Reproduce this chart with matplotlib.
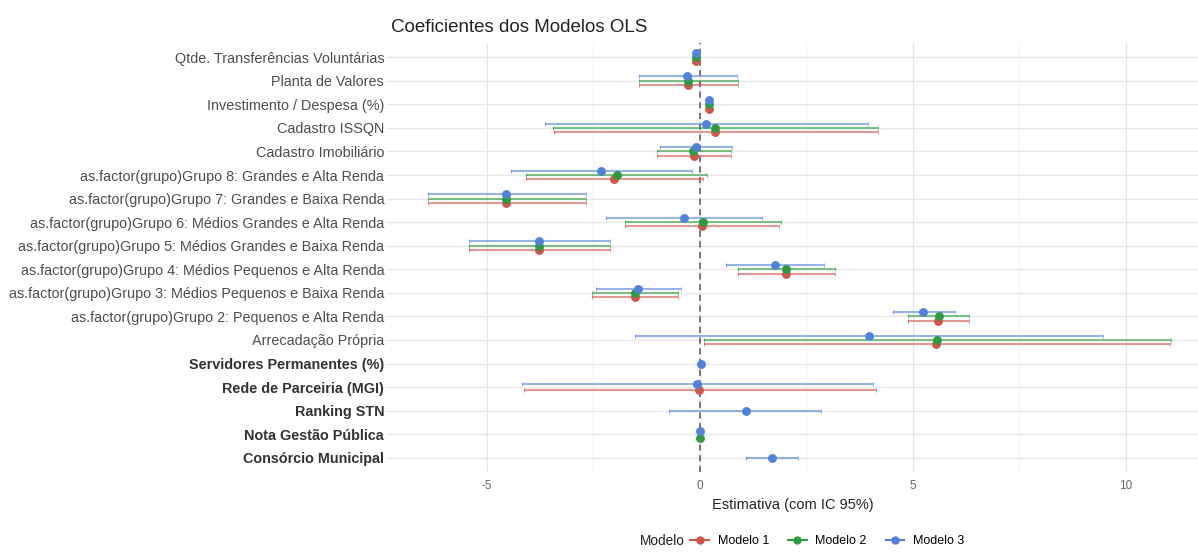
import numpy as np
import matplotlib
matplotlib.use("Agg")
import matplotlib.pyplot as plt
from matplotlib.lines import Line2D

plt.rcParams['font.family'] = ['Liberation Sans', 'DejaVu Sans']

terms = [
    "Qtde. Transferências Voluntárias",
    "Planta de Valores",
    "Investimento / Despesa (%)",
    "Cadastro ISSQN",
    "Cadastro Imobiliário",
    "as.factor(grupo)Grupo 8: Grandes e Alta Renda",
    "as.factor(grupo)Grupo 7: Grandes e Baixa Renda",
    "as.factor(grupo)Grupo 6: Médios Grandes e Alta Renda",
    "as.factor(grupo)Grupo 5: Médios Grandes e Baixa Renda",
    "as.factor(grupo)Grupo 4: Médios Pequenos e Alta Renda",
    "as.factor(grupo)Grupo 3: Médios Pequenos e Baixa Renda",
    "as.factor(grupo)Grupo 2: Pequenos e Alta Renda",
    "Arrecadação Própria",
    "Servidores Permanentes (%)",
    "Rede de Parceiria (MGI)",
    "Ranking STN",
    "Nota Gestão Pública",
    "Consórcio Municipal",
]
bold_terms = ["Servidores Permanentes (%)", "Rede de Parceiria (MGI)", "Ranking STN",
              "Nota Gestão Pública", "Consórcio Municipal"]

nan = np.nan
m1_est = [-0.09, -0.27, 0.22, 0.36, -0.14, -2.00, -4.54, 0.06, -3.76, 2.03, -1.51, 5.60, 5.54, nan, -0.01, nan, nan, nan]
m1_lo  = [-0.12, -1.43, 0.19, -3.43, -1.00, -4.08, -6.38, -1.75, -5.41, 0.90, -2.52, 4.89, 0.11, nan, -4.12, nan, nan, nan]
m1_hi  = [-0.06, 0.90, 0.25, 4.19, 0.74, 0.09, -2.67, 1.87, -2.11, 3.18, -0.51, 6.33, 11.05, nan, 4.14, nan, nan, nan]

m2_est = [-0.08, -0.27, 0.22, 0.35, -0.15, -1.95, -4.54, 0.07, -3.76, 2.03, -1.51, 5.61, 5.58, nan, nan, nan, 0.00, nan]
m2_lo  = [-0.11, -1.43, 0.19, -3.45, -1.00, -4.08, -6.38, -1.75, -5.41, 0.90, -2.52, 4.89, 0.11, nan, nan, nan, -0.02, nan]
m2_hi  = [-0.05, 0.90, 0.25, 4.19, 0.74, 0.17, -2.67, 1.91, -2.11, 3.18, -0.51, 6.33, 11.06, nan, nan, nan, 0.02, nan]

m3_est = [-0.08, -0.29, 0.21, 0.15, -0.08, -2.31, -4.54, -0.37, -3.76, 1.77, -1.45, 5.25, 3.98, 0.04, -0.07, 1.08, 0.00, 1.69]
m3_lo  = [-0.11, -1.43, 0.18, -3.64, -0.94, -4.43, -6.38, -2.19, -5.41, 0.62, -2.43, 4.54, -1.51, 0.01, -4.17, -0.71, -0.02, 1.08]
m3_hi  = [-0.05, 0.88, 0.24, 3.95, 0.77, -0.17, -2.67, 1.46, -2.11, 2.91, -0.43, 6.00, 9.48, 0.07, 4.07, 2.85, 0.02, 2.30]

models = ["Modelo 1", "Modelo 2", "Modelo 3"]
colors = ["#D0564C", "#2F9B40", "#5082DA"]
ests = [m1_est, m2_est, m3_est]
los = [m1_lo, m2_lo, m3_lo]
his = [m1_hi, m2_hi, m3_hi]

fig = plt.figure(figsize=(11.98, 5.52), dpi=100)
ax = fig.add_axes([387/1198, 1 - 472/552, (1198 - 387)/1198, (472 - 43)/552])

n_terms = len(terms)
base = np.arange(n_terms)[::-1].astype(float)  # top term highest
dodge_w = 0.55

# positions with dodge among present models
pos = {k: np.full(n_terms, np.nan) for k in range(3)}
for t in range(n_terms):
    present = [k for k in range(3) if not np.isnan(ests[k][t])]
    n = len(present)
    for i, k in enumerate(present):
        pos[k][t] = base[t] + (i - (n - 1) / 2) * dodge_w / n

# grid
for xv in [-5, 0, 5, 10]:
    ax.axvline(xv, color="#E6E6E6", lw=0.9, zorder=0)
for xv in [-2.5, 2.5, 7.5]:
    ax.axvline(xv, color="#EFEFEF", lw=0.6, zorder=0)
for yv in base:
    ax.axhline(yv, color="#E6E6E6", lw=1.0, zorder=0)

ax.axvline(0, color="#555555", lw=1.1, ls=(0, (4, 3)), zorder=1)

for k in range(3):
    e = np.array(ests[k]); lo = np.array(los[k]); hi = np.array(his[k]); y = pos[k]
    m = ~np.isnan(e)
    ax.errorbar(e[m], y[m], xerr=[e[m] - lo[m], hi[m] - e[m]], fmt='none',
                ecolor=colors[k], elinewidth=1.5, capsize=1.6, capthick=0.8, alpha=0.6, zorder=2)
    ax.plot(e[m], y[m], 'o', color=colors[k], ms=6.4, zorder=3 + k, markeredgewidth=0)

ax.set_xlim(-7.34, 11.7)
ax.set_ylim(-0.6, n_terms - 1 + 0.6)
ax.set_xticks([-5, 0, 5, 10])
ax.set_xticklabels(["-5", "0", "5", "10"])
ax.set_yticks(base)
ax.set_yticklabels(terms)
for lab in ax.get_yticklabels():
    if lab.get_text() in bold_terms:
        lab.set_fontweight("bold")
        lab.set_color("#333333")
    else:
        lab.set_color("#4D4D4D")
ax.tick_params(axis='y', length=0, labelsize=10.4, pad=2)
ax.tick_params(axis='x', length=0, labelsize=8.5, labelcolor="#666666", pad=6)
for s in ax.spines.values():
    s.set_visible(False)

ax.set_xlabel("Estimativa (com IC 95%)", fontsize=10.5, color="#222222", labelpad=4)
fig.text(391/1198, 1 - 28/552, "Coeficientes dos Modelos OLS", fontsize=13.5, color="#222222",
         ha='left', va='center')

handles = [Line2D([0], [0], color=c, marker='o', ms=5, lw=1.5) for c in colors]
fig.text(640/1198, 1 - 541/552, "Modelo", fontsize=9.8, color="#222222", ha='left', va='center')
fig.legend(handles, models, loc='center left', bbox_to_anchor=(679/1198, 1 - 541/552), ncol=3,
           frameon=False, fontsize=9, handlelength=1.5, columnspacing=1.5, handletextpad=0.7)

fig.savefig("out.png", dpi=100)
